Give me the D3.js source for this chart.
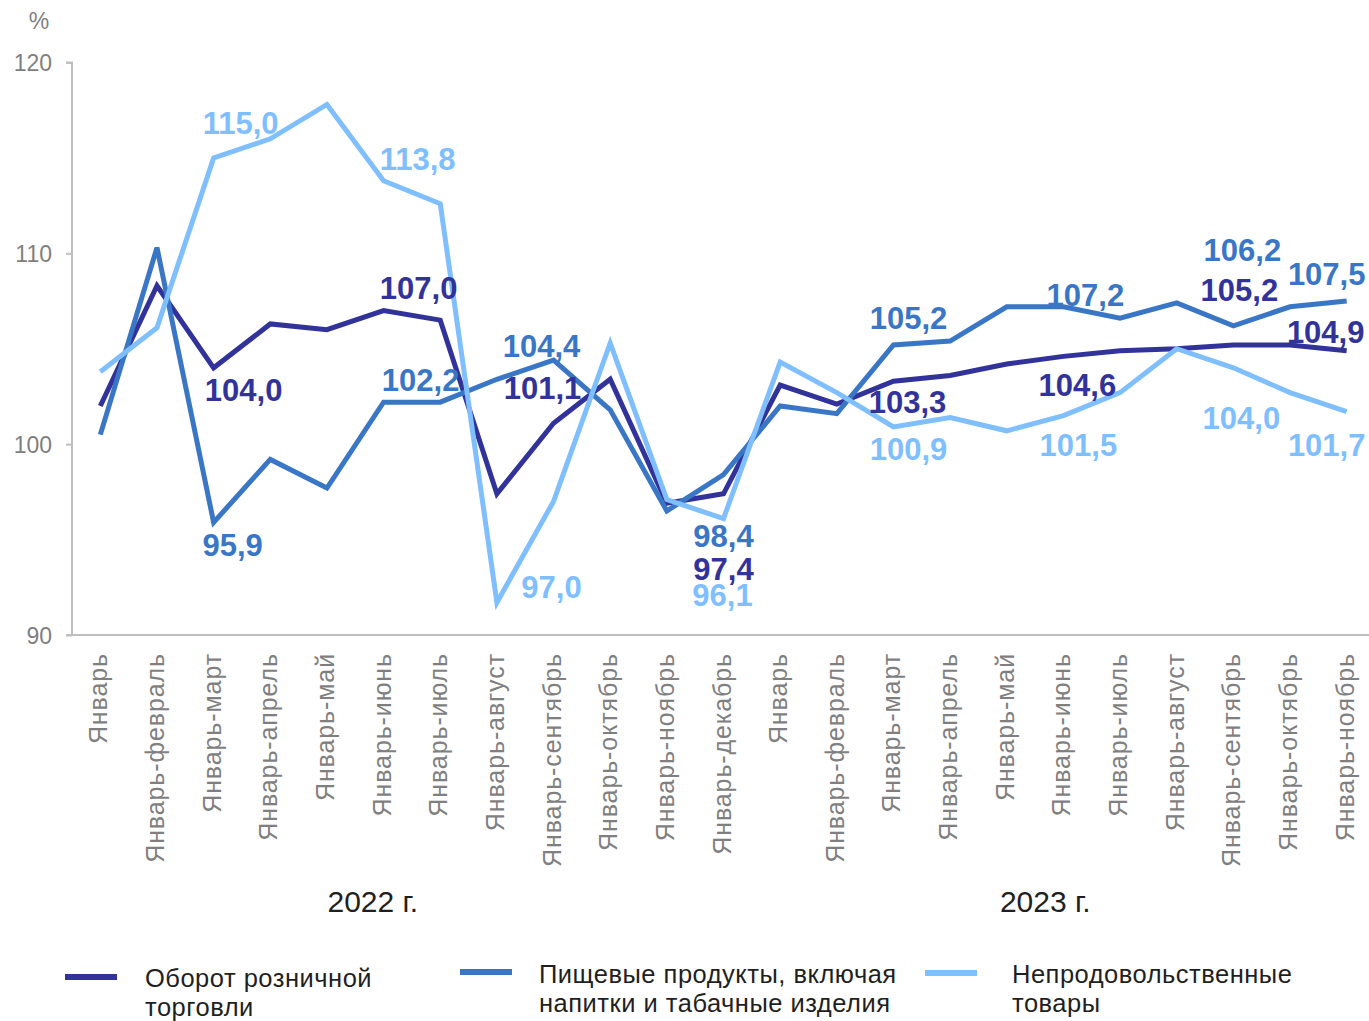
<!DOCTYPE html>
<html>
<head>
<meta charset="utf-8">
<script src="https://cdn.jsdelivr.net/npm/d3@7/dist/d3.min.js"></script>
<style>
  html, body { margin: 0; padding: 0; background: #ffffff; }
  svg { display: block; font-family: "Liberation Sans", Arial, sans-serif; }
</style>
</head>
<body>
<svg id="chart" width="1369" height="1021"></svg>
<script>
// ---------------- DATA ----------------
const categories = [
  "Январь", "Январь-февраль", "Январь-март", "Январь-апрель", "Январь-май", "Январь-июнь",
  "Январь-июль", "Январь-август", "Январь-сентябрь", "Январь-октябрь", "Январь-ноябрь", "Январь-декабрь",
  "Январь ", "Январь-февраль ", "Январь-март ", "Январь-апрель ", "Январь-май ", "Январь-июнь ",
  "Январь-июль ", "Январь-август ", "Январь-сентябрь ", "Январь-октябрь ", "Январь-ноябрь "
];
const years = ["2022 г.", "2023 г."];
const seriesNames = [
  ["Оборот розничной", "торговли"],
  ["Пищевые продукты, включая", "напитки и табачные изделия"],
  ["Непродовольственные", "товары"]
];
const retailTurnover = [102.0, 108.3, 104.0, 106.3, 106.0, 107.0, 106.5, 97.4, 101.1, 103.4, 96.9, 97.4,
                        103.1, 102.1, 103.3, 103.6, 104.2, 104.6, 104.9, 105.0, 105.2, 105.2, 104.9];
const foodProducts   = [100.5, 110.3, 95.9, 99.2, 97.7, 102.2, 102.2, 103.4, 104.4, 101.8, 96.5, 98.4,
                        102.0, 101.6, 105.2, 105.4, 107.2, 107.2, 106.6, 107.4, 106.2, 107.2, 107.5];
const nonFoodGoods   = [103.8, 106.1, 115.0, 116.0, 117.8, 113.8, 112.6, 91.7, 97.0, 105.3, 97.1, 96.1,
                        104.3, 102.7, 100.9, 101.4, 100.7, 101.5, 102.7, 105.0, 104.0, 102.7, 101.7];
const yTicks = [90, 100, 110, 120];
const yUnit = "%";
// indices of points that carry a value label
const labelledIdx = [2, 5, 8, 11, 14, 17, 20, 22];

// ---------------- LAYOUT / STYLE ----------------
const colors = ["#31339A", "#3A76C6", "#80BFFF"];
const grey = "#BFBFBF";
const tickText = "#7F7F7F";
const darkText = "#1F1F1F";

// label offsets (dx, dy to baseline) per series, matching labelledIdx order
const labelOffsets = [
  [[30, 33], [35, -12], [-11, -24], [0, 86], [14, 32], [14, 40], [6, -44], [-21, -8]],
  [[19, 34], [37, -11], [-12, -3], [0, 72], [15, -16], [22, -1], [9, -65], [-20, -16]],
  [[27, -24], [34, -11], [-2, 97], [-1, 87], [15, 33], [15, 40], [8, 61], [-20, 44]]
];
const yearPos = [4.81, 16.68];     // in category-index units
const legendLayout = [
  { lineX: 65,  lineY: 977, textX: 145,  base: 987 },
  { lineX: 460, lineY: 972, textX: 539,  base: 983 },
  { lineX: 925, lineY: 973, textX: 1012, base: 983 }
];

const svg = d3.select("#chart");
const plotLeft = 72, plotRight = 1375, plotTop = 62.5, plotBottom = 635;

const x = d3.scalePoint().domain(categories).range([plotLeft, plotRight]).padding(0.5);
const y = d3.scaleLinear().domain([90, 120]).range([plotBottom, plotTop]);
const step = x.step();

// ---------- Y axis ----------
const yAxis = d3.axisLeft(y).tickValues(yTicks).tickSize(6).tickPadding(14).tickFormat(d3.format("d"));
const gy = svg.append("g").attr("transform", `translate(${plotLeft},0)`).call(yAxis);
gy.select(".domain").attr("stroke", grey).attr("stroke-width", 2).attr("d", `M-6,${plotTop}H0V${plotBottom}`);
gy.selectAll(".tick line").attr("stroke", grey).attr("stroke-width", 2);
gy.selectAll(".tick text").attr("fill", tickText).attr("font-size", 23)
  .attr("font-family", "'Liberation Sans', Arial, sans-serif").attr("dy", "0.36em");

svg.append("text").attr("x", 39).attr("y", 29).attr("text-anchor", "middle")
  .attr("fill", tickText).attr("font-size", 23).text(yUnit);

// ---------- X axis ----------
const xAxis = d3.axisBottom(x).tickSize(0).tickPadding(0);
const gx = svg.append("g").attr("transform", `translate(0,${plotBottom})`).call(xAxis);
gx.select(".domain").attr("stroke", grey).attr("stroke-width", 2).attr("d", `M${plotLeft - 6},0H1369`);
gx.selectAll(".tick text")
  .attr("font-family", "'Liberation Sans', Arial, sans-serif")
  .attr("font-size", 25)
  .attr("fill", tickText)
  .attr("letter-spacing", "0.9px")
  .attr("text-anchor", "end")
  .attr("transform", "rotate(-90)")
  .attr("x", -18)
  .attr("y", 0)
  .attr("dy", "0.26em")
  .text(d => d.trim());

// year group labels
svg.selectAll(".year").data(years).join("text")
  .attr("class", "year")
  .attr("x", (d, i) => x(categories[0]) + yearPos[i] * step)
  .attr("y", 912)
  .attr("text-anchor", "middle")
  .attr("font-size", 30)
  .attr("fill", darkText)
  .text(d => d);

// ---------- Lines ----------
const allSeries = [retailTurnover, foodProducts, nonFoodGoods];
const line = d3.line().x((d, i) => x(categories[i])).y(d => y(d));
svg.append("g").selectAll("path").data(allSeries).join("path")
  .attr("d", d => line(d))
  .attr("fill", "none")
  .attr("stroke", (d, i) => colors[i])
  .attr("stroke-width", 5)
  .attr("stroke-linejoin", "miter")
  .attr("stroke-miterlimit", 4);

// ---------- Value labels ----------
const fmt = v => d3.format(".1f")(v).replace(".", ",");
allSeries.forEach((series, s) => {
  svg.append("g").selectAll("text").data(labelledIdx).join("text")
    .attr("x", (idx, k) => x(categories[idx]) + labelOffsets[s][k][0])
    .attr("y", (idx, k) => y(series[idx]) + labelOffsets[s][k][1])
    .attr("text-anchor", "middle")
    .attr("font-size", 31)
    .attr("font-weight", "bold")
    .attr("fill", colors[s])
    .text(idx => fmt(series[idx]));
});

// ---------- Legend ----------
const lg = svg.append("g").selectAll("g").data(seriesNames).join("g");
lg.append("line")
  .attr("x1", (d, i) => legendLayout[i].lineX)
  .attr("x2", (d, i) => legendLayout[i].lineX + 52)
  .attr("y1", (d, i) => legendLayout[i].lineY)
  .attr("y2", (d, i) => legendLayout[i].lineY)
  .attr("stroke", (d, i) => colors[i])
  .attr("stroke-width", 6);
lg.each(function(d, i) {
  const t = d3.select(this).append("text")
    .attr("font-size", 25.5)
    .attr("letter-spacing", "0.5px")
    .attr("fill", darkText);
  d.forEach((ln, j) => {
    t.append("tspan").attr("x", legendLayout[i].textX)
      .attr("y", legendLayout[i].base + j * 29).text(ln);
  });
});
</script>
</body>
</html>
